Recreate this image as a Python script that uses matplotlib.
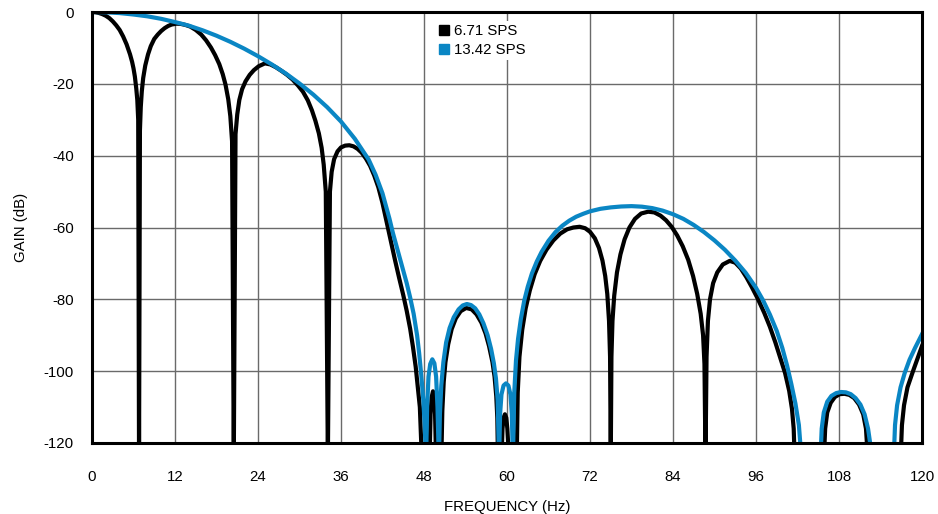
import matplotlib
matplotlib.use("Agg")
import matplotlib.pyplot as plt
from matplotlib.lines import Line2D

plt.rcParams['font.family'] = ['Liberation Sans', 'DejaVu Sans']

# 6.71 SPS (black); -125 marks notches below the axis floor
freq_671 = [0, 0.5, 1, 1.5, 2, 2.5, 3, 3.5, 4, 4.5, 5, 5.5, 5.8, 6.0, 6.2, 6.4, 6.55, 6.68, 6.8,
            6.93, 7.05, 7.2, 7.4, 7.7, 8.1, 8.5, 9.0, 9.5, 10.0, 10.5, 11.0, 11.5, 12.2, 12.8, 13.5,
            14.2, 15.0, 15.8, 16.5, 17.2, 17.8, 18.4, 18.9, 19.3, 19.7, 20.0, 20.25, 20.5,
            20.75, 21.0, 21.3, 21.7, 22.2, 22.8, 23.4, 24.1, 25.0, 25.8, 26.6, 27.4, 28.2, 29.0, 29.8,
            30.5, 31.2, 31.8, 32.3, 32.8, 33.2, 33.5, 33.8, 34.1,
            34.4, 34.65, 35.0, 35.5, 36.0, 36.6, 37.2, 37.8, 38.4, 39.0, 39.6, 40.2, 40.8, 41.4, 42.0,
            42.6, 43.2, 43.8, 44.4, 45.0, 45.5, 46.0, 46.4, 46.8, 47.1, 47.4, 47.7,
            48.8, 48.95, 49.1, 49.3, 49.5, 49.6, 49.75,
            50.5, 50.65, 50.85, 51.1, 51.5, 52.0, 52.6, 53.3, 54.1, 54.9, 55.6, 56.3, 56.9, 57.4, 57.9,
            58.2, 58.45, 58.6, 58.7,
            59.2, 59.35, 59.5, 59.7, 59.9, 60.05, 60.3,
            61.4, 61.55, 61.8, 62.2, 62.7, 63.3, 64.0, 64.8, 65.7, 66.7, 67.7, 68.7, 69.6, 70.5, 71.3,
            72.0, 72.7, 73.3, 73.8, 74.2, 74.5, 74.75, 74.9, 75.0,
            75.1, 75.25, 75.5, 75.9, 76.4, 77.0, 77.7, 78.5, 79.4, 80.4, 81.3, 82.2, 83.0, 83.8, 84.6,
            85.4, 86.2, 86.9, 87.5, 88.0, 88.35, 88.55, 88.7,
            88.85, 89.05, 89.35, 89.8, 90.4, 91.2, 92.2, 93.0, 93.8, 94.6, 95.4, 96.3, 97.2, 98.0,
            98.8, 99.5, 100.2, 100.8, 101.2, 101.45, 101.6,
            105.8, 106.0, 106.3, 106.8, 107.4, 108.1, 108.8, 109.5, 110.2, 110.9, 111.5, 111.9, 112.2,
            116.9, 117.1, 117.4, 117.9, 118.7, 119.4, 120.0]
gain_671 = [0, -0.07, -0.27, -0.6, -1.05, -1.7, -2.6, -3.7, -5.0, -6.8, -9.0, -11.8, -13.9, -15.7, -18.0,
            -21.3, -24.5, -30, -125,
            -33, -26.5, -22.1, -18.4, -14.9, -11.8, -9.5, -7.5, -6.3, -5.3, -4.5, -3.9, -3.5, -3.25,
            -3.3, -3.6, -4.05, -5.0, -6.3, -7.9, -9.9, -12.0, -14.5, -17.3, -20.2, -24.3, -29, -36, -125,
            -34, -28.5, -24.5, -21.5, -19.3, -17.5, -16.2, -15.1, -14.3, -14.6, -15.4, -16.4, -17.5,
            -18.8, -20.5, -22.2, -24.6, -27.4, -30.3, -33.8, -37.8, -42.5, -50, -125,
            -50, -44.5, -41, -38.8, -37.7, -37.2, -37.1, -37.4, -38.1, -39.2, -40.8, -42.8, -45.5,
            -48.8, -53.2, -58.5, -63.8, -69, -74, -78.8, -83.2, -88.2, -93.2, -98.8, -104.3, -110, -125,
            -125, -112, -107.3, -105.6, -107.3, -112, -125,
            -125, -111, -103, -97.5, -92.5, -88.3, -85.3, -83.3, -82.4, -82.8, -84.2, -86.5, -89.5,
            -93, -97.5, -101.5, -107, -113, -125,
            -125, -116, -113, -112, -113, -116, -125,
            -125, -106, -96, -88.5, -82.5, -77.5, -73, -69.3, -66.2, -63.6, -61.7, -60.5, -60.0, -59.8,
            -60.2, -61.2, -63.0, -65.7, -69.2, -73.5, -78.5, -86, -96, -125,
            -96, -86, -79, -72.5, -67.5, -63.3, -60, -57.6, -56.1, -55.6, -55.8, -56.7, -58.0, -59.8,
            -62.2, -65.2, -69, -73.5, -78.5, -84, -90, -98, -125,
            -96, -86, -80, -75.5, -72.5, -70.3, -69.3, -69.8, -71.4, -73.8, -76.6, -80.0, -83.8, -87.6,
            -92, -96.2, -100.5, -105.5, -110.5, -116, -125,
            -125, -116, -111.5, -108.8, -107.2, -106.4, -106.3, -106.6, -107.5, -109.3, -112, -116, -125,
            -125, -115, -109.5, -104.5, -100, -96.2, -93]

# 13.42 SPS (blue)
freq_1342 = [0, 2, 4, 6, 8, 10, 12, 14, 16, 18, 20, 22, 24, 26, 28, 30, 32, 34, 36, 38, 40, 41, 42, 43,
             43.5, 44, 44.5, 45, 45.5, 46, 46.5, 47, 47.3, 47.6, 47.9, 48.1, 48.3,
             48.45, 48.65, 48.9, 49.2, 49.5, 49.75, 49.95, 50.15,
             50.3, 50.5, 50.8, 51.2, 51.7, 52.3, 53.0, 53.6, 54.2, 54.8, 55.4, 56.0, 56.6, 57.2, 57.7,
             58.1, 58.4, 58.65, 58.85,
             59.0, 59.2, 59.5, 59.85, 60.2, 60.5, 60.7, 60.85,
             61.05, 61.3, 61.6, 62.0, 62.5, 63.0, 63.6, 64.3, 65.0, 66.0, 67.0, 68.0, 69.0, 70.0, 71.0,
             72.0, 73.5, 75.0, 76.5, 78.0, 79.5, 81.0, 82.5, 84.0, 85.5, 87.0, 88.5, 90.0, 91.5, 93.0,
             94.5, 96.0, 97.0, 98.0, 99.0, 99.8, 100.5, 101.1, 101.7, 102.2, 102.6,
             105.3, 105.5, 105.8, 106.3, 106.9, 107.6, 108.3, 109.0, 109.7, 110.4, 111.1, 111.7, 112.2,
             112.5, 112.7,
             115.9, 116.1, 116.4, 116.9, 117.5, 118.2, 119.0, 120.0]
gain_1342 = [0, -0.08, -0.3, -0.7, -1.2, -1.9, -2.8, -3.8, -5.1, -6.6, -8.3, -10.2, -12.3, -14.6, -17.1,
             -19.9, -23.0, -26.5, -30.5, -35.3, -41.1, -45.3, -50.5, -57.5, -61.5, -65, -68.5, -72,
             -75.5, -79.5, -84, -90, -95, -101, -108, -115, -125,
             -110, -101.5, -98, -96.7, -97.8, -101.5, -110, -125,
             -112, -104, -97.5, -92, -88, -85, -82.8, -81.7, -81.3, -81.6, -82.5, -84.2, -86.7, -90,
             -93.8, -97.8, -102, -108, -125,
             -112, -106.5, -104, -103.4, -104, -106.5, -112, -125,
             -106, -97, -91, -85.5, -80.3, -76.5, -72.8, -69.5, -66.8, -63.7, -61.3, -59.5, -58.1, -57.0,
             -56.2, -55.5, -54.8, -54.4, -54.15, -54.05, -54.2, -54.6, -55.3, -56.3, -57.6, -59.3, -61.3,
             -63.6, -66.2, -69.2, -72.6, -76.8, -80.2, -84.2, -88.8, -93.5, -98.5, -103.5, -109, -115, -125,
             -125, -116, -111.5, -108.5, -106.9, -106.1, -105.8, -105.9, -106.4, -107.5, -109.3, -112,
             -116, -120, -125,
             -125, -115, -109.5, -104.5, -100.5, -96.8, -93.5, -89.7]

x_ticks = [0, 12, 24, 36, 48, 60, 72, 84, 96, 108, 120]
y_ticks = [0, -20, -40, -60, -80, -100, -120]
series_labels = ["6.71 SPS", "13.42 SPS"]
BLACK = "#000000"
BLUE = "#0a86c4"

fig = plt.figure(figsize=(9.38, 5.14), dpi=100)
ax = fig.add_axes([92 / 938, 1 - 443 / 514, (922 - 92) / 938, (443 - 12) / 514])

ax.plot(freq_671, gain_671, color=BLACK, lw=3.0, solid_joinstyle='round', zorder=3)
ax.plot(freq_1342, gain_1342, color=BLUE, lw=3.0, solid_joinstyle='round', zorder=4)

ax.set_xlim(0, 120)
ax.set_ylim(-120, 0)
ax.set_xticks(x_ticks)
ax.set_yticks(y_ticks)
ax.set_xticklabels([str(v) for v in x_ticks])
ax.set_yticklabels([str(v) for v in y_ticks])
ax.tick_params(axis='both', length=0, labelsize=10.8, colors='#000000')
ax.tick_params(axis='x', pad=19.5)
ax.tick_params(axis='y', pad=13)
ax.set_axisbelow(True)
ax.grid(True, color='#6a6a6a', lw=1.0)
for sp in ax.spines.values():
    sp.set_linewidth(2.2)
    sp.set_color('#000000')
    sp.set_zorder(6)

ax.set_xlabel("FREQUENCY (Hz)", fontsize=10.8, labelpad=11.5)
ax.set_ylabel("GAIN (dB)", fontsize=10.8, labelpad=11)

handles = [Line2D([], [], marker='s', linestyle='none', color=BLACK, markersize=6.5),
           Line2D([], [], marker='s', linestyle='none', color=BLUE, markersize=6.5)]
leg = ax.legend(handles, series_labels, loc='upper left', bbox_to_anchor=(435 / 938, 1 - 21 / 514),
                bbox_transform=fig.transFigure, frameon=True, fontsize=10.8, handlelength=0.8,
                handletextpad=0.25, labelspacing=0.36, borderpad=0.2, borderaxespad=0)
leg.get_frame().set_facecolor('white')
leg.get_frame().set_edgecolor('none')
leg.get_frame().set_alpha(1)

fig.savefig("out.png", dpi=100)
